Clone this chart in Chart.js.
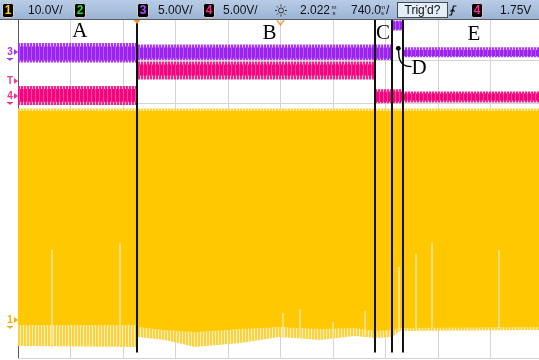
<!DOCTYPE html>
<html>
<head>
<meta charset="utf-8">
<script src="https://cdn.jsdelivr.net/npm/chart.js@4.4.0/dist/chart.umd.min.js"></script>
<style>
  html, body { margin: 0; padding: 0; background: #fff; overflow: hidden; }
  #wrap { width: 539px; height: 360px; overflow: hidden; }
  canvas { display: block; }
</style>
</head>
<body>
<div id="wrap"><canvas id="scope" width="543" height="360"></canvas></div>
<script>
// x: screen divisions (740 ms/div), 0 = left edge. y: screen divisions, 0 = centre

// cursor lines drawn over the capture
const cursorX = [2.267, 6.8, 7.124, 7.333];
const cursorSpan = [3.953, -3.871];

const labelText = ['A', 'B', 'C', 'D', 'E'];
const labelX = [1.177, 4.79, 6.952, 7.638, 8.686];
const labelY = [3.671, 3.631, 3.624, 2.816, 3.612];
const calloutFrom = [7.244, 3.287];
const calloutTo = [7.495, 2.854];

// channel markers on the left edge
const markerText = ['3', 'T', '4', '1'];
const markerY = [3.2, 2.518, 2.165, -3.106];

// channel 1 (yellow)
const ch1X       = [0, 2.267, 2.28, 2.8, 3.37, 4.23, 4.99, 5.75, 6.42, 6.8, 7.124, 7.276, 10];
const ch1OuterHi = [1.871, 1.871, 1.871, 1.871, 1.871, 1.871, 1.871, 1.871, 1.871, 1.871, 1.871, 1.871, 1.871];
const ch1CoreHi  = [1.812, 1.812, 1.812, 1.812, 1.812, 1.812, 1.812, 1.812, 1.812, 1.812, 1.812, 1.812, 1.812];
const ch1CoreLo  = [-3.224, -3.224, -3.271, -3.341, -3.388, -3.318, -3.271, -3.318, -3.294, -3.365, -3.341, -3.294, -3.271];
const ch1OuterLo = [-3.718, -3.741, -3.506, -3.576, -3.741, -3.647, -3.506, -3.576, -3.482, -3.529, -3.506, -3.365, -3.341];

// spikes inside channel 1
const glitchX      = [0.648, 1.943, 5.048, 5.371, 6.0, 6.61, 7.257, 7.581, 7.886, 9.162];
const glitchTop    = [-1.459, -1.294, -2.941, -2.847, -3.153, -2.894, -1.859, -1.553, -1.294, -1.459];
const glitchBottom = [-3.694, -3.694, -3.529, -3.529, -3.529, -3.482, -3.341, -3.294, -3.294, -3.294];

// channel 3 (purple)
const ch3X       = [0, 2.267, 2.267, 7.124, 7.124, 7.333, 7.333, 10];
const ch3OuterHi = [3.412, 3.412, 3.376, 3.376, 3.941, 3.941, 3.311, 3.311];
const ch3CoreHi  = [3.329, 3.329, 3.306, 3.306, 3.918, 3.918, 3.247, 3.247];
const ch3CoreLo  = [3.0, 3.0, 3.047, 3.047, 3.729, 3.729, 3.106, 3.106];
const ch3OuterLo = [2.953, 2.953, 3.012, 3.012, 3.706, 3.706, 3.075, 3.075];

// channel 4 (pink)
const ch4X       = [0, 2.267, 2.267, 6.8, 6.8, 7.333, 7.333, 10];
const ch4OuterHi = [2.4, 2.4, 2.976, 2.976, 2.322, 2.322, 2.271, 2.271];
const ch4CoreHi  = [2.329, 2.329, 2.906, 2.906, 2.266, 2.266, 2.224, 2.224];
const ch4CoreLo  = [2.031, 2.031, 2.647, 2.647, 2.031, 2.031, 2.059, 2.059];
const ch4OuterLo = [1.953, 1.953, 2.553, 2.553, 1.993, 1.993, 2.012, 2.012];

function stripes(c1, w1, c2, w2) {
  const c = document.createElement('canvas');
  c.width = w1 + w2; c.height = 1;
  const g = c.getContext('2d');
  g.fillStyle = c1; g.fillRect(0, 0, w1, 1);
  g.fillStyle = c2; g.fillRect(w1, 0, w2, 1);
  return g.createPattern(c, 'repeat');
}

const datasets = [];

function segments(xs, tops, bottoms) {
  const pts = [];
  xs.forEach((x, i) => {
    pts.push({x, y: tops[i]}, {x, y: bottoms[i]}, {x, y: null});
  });
  return pts;
}

function band(xs, hi, lo, bg) {
  const i = datasets.length;
  datasets.push({ data: xs.map((x, k) => ({x, y: hi[k]})), fill: i + 1, backgroundColor: bg,
    borderColor: 'transparent', borderWidth: 0, pointRadius: 0 });
  datasets.push({ data: xs.map((x, k) => ({x, y: lo[k]})), fill: false,
    borderColor: 'transparent', borderWidth: 0, pointRadius: 0 });
}

// top of the list is drawn last
datasets.push({
  data: segments(cursorX, cursorX.map(() => cursorSpan[0]), cursorX.map(() => cursorSpan[1])),
  borderColor: '#111', borderWidth: 2, pointRadius: 0, fill: false
});
datasets.push({
  data: segments(glitchX, glitchTop, glitchBottom),
  borderColor: '#ffe38a', borderWidth: 1, pointRadius: 0, fill: false
});
band(ch1X, ch1CoreHi, ch1CoreLo, '#ffc800');
band(ch1X, ch1OuterHi, ch1OuterLo, stripes('#ffd23c', 2, '#fff0c0', 1));
band(ch4X, ch4CoreHi, ch4CoreLo, stripes('#f4047d', 3, '#fa4aa0', 1));
band(ch4X, ch4OuterHi, ch4OuterLo, stripes('#f5208a', 2, '#ffc4e0', 1));
band(ch3X, ch3CoreHi, ch3CoreLo, stripes('#9d22f2', 3, '#b45ef6', 1));
band(ch3X, ch3OuterHi, ch3OuterLo, stripes('#a93bf2', 2, '#e6c4fb', 1));

const SANS = '"Liberation Sans", Arial, sans-serif';

const overlay = {
  id: 'overlay',
  afterDatasetsDraw(chart) {
    const {ctx, scales: {x, y}} = chart;
    ctx.save();
    ctx.fillStyle = '#000';
    ctx.font = '21px "Liberation Serif", "Times New Roman", serif';
    ctx.textAlign = 'center';
    ctx.textBaseline = 'middle';
    labelText.forEach((t, i) => ctx.fillText(t, x.getPixelForValue(labelX[i]), y.getPixelForValue(labelY[i])));

    // callout for D
    const ax = x.getPixelForValue(calloutFrom[0]), ay = y.getPixelForValue(calloutFrom[1]);
    const bx = x.getPixelForValue(calloutTo[0]), by = y.getPixelForValue(calloutTo[1]);
    ctx.strokeStyle = '#000';
    ctx.lineWidth = 1.3;
    ctx.beginPath();
    ctx.moveTo(ax, ay);
    ctx.lineTo(ax + 0.8, ay + 9);
    ctx.quadraticCurveTo(ax + 2.5, by, bx, by);
    ctx.stroke();
    ctx.beginPath();
    ctx.arc(ax, ay, 2.4, 0, Math.PI * 2);
    ctx.fill();
    ctx.restore();
  },
  afterDraw(chart) {
    const {ctx, scales: {x, y}} = chart;
    ctx.save();

    // left channel markers
    const mColors = ['#a233f0', '#ee3d95', '#ee2d8c', '#f2b300'];
    ctx.font = 'bold 10px ' + SANS;
    ctx.textAlign = 'center';
    ctx.textBaseline = 'middle';
    markerText.forEach((t, i) => {
      const py = Math.round(y.getPixelForValue(markerY[i]));
      ctx.fillStyle = mColors[i];
      ctx.fillText(t, 10, py);
      ctx.beginPath();
      ctx.moveTo(14, py - 3); ctx.lineTo(18, py); ctx.lineTo(14, py + 3);
      ctx.fill();
      if (t !== 'T') {
        ctx.fillRect(7, py + 6, 6, 1);
        ctx.beginPath();
        ctx.moveTo(8, py + 7); ctx.lineTo(12, py + 7); ctx.lineTo(10, py + 9);
        ctx.fill();
      }
    });

    // status bar
    const W = chart.width;
    const grad = ctx.createLinearGradient(0, 0, 0, 19);
    grad.addColorStop(0, '#b8cce6');
    grad.addColorStop(1, '#9bb4d5');
    ctx.fillStyle = grad;
    ctx.fillRect(0, 0, W, 19);
    ctx.fillStyle = '#5c5c5c';
    ctx.fillRect(0, 19, W, 1);

    function chip(px, label, color) {
      ctx.fillStyle = '#000';
      ctx.beginPath();
      ctx.roundRect(px + 0.5, 3.5, 11, 14, 2);
      ctx.fill();
      ctx.strokeStyle = '#d0d0d0';
      ctx.lineWidth = 1;
      ctx.stroke();
      ctx.fillStyle = color;
      ctx.font = 'bold 12px ' + SANS;
      ctx.textAlign = 'center';
      ctx.fillText(label, px + 6, 11);
    }
    ctx.textBaseline = 'middle';
    chip(2, '1', '#ffd700');
    chip(74, '2', '#22e022');
    chip(137, '3', '#b04cff');
    chip(203, '4', '#ff2a90');
    chip(471, '4', '#ff2a90');

    ctx.fillStyle = '#111';
    ctx.font = '12px ' + SANS;
    ctx.textAlign = 'left';
    [['10.0V/', 28], ['5.00V/', 158], ['5.00V/', 223], ['2.022', 300],
     ['740.0', 351], ['/', 386], ['1.75V', 500]].forEach(([t, px]) => ctx.fillText(t, px, 10.5));
    ctx.font = '6px ' + SANS;
    ctx.textAlign = 'center';
    [331.5 + 2.5, 379 + 3.5].forEach(px => {
      ctx.fillText('m', px, 7);
      ctx.fillText('s', px, 13.5);
    });

    // intensity icon
    ctx.strokeStyle = '#333';
    ctx.lineWidth = 1;
    ctx.beginPath();
    ctx.arc(281, 10.5, 2.5, 0, Math.PI * 2);
    ctx.stroke();
    for (let k = 0; k < 8; k++) {
      const a = k * Math.PI / 4;
      ctx.beginPath();
      ctx.moveTo(281 + Math.cos(a) * 4, 10.5 + Math.sin(a) * 4);
      ctx.lineTo(281 + Math.cos(a) * 6, 10.5 + Math.sin(a) * 6);
      ctx.stroke();
    }

    // trigger status box
    ctx.fillStyle = '#e3edf8';
    ctx.fillRect(397.5, 2.5, 50, 15);
    ctx.strokeStyle = '#4a4a4a';
    ctx.strokeRect(397.5, 2.5, 50, 15);
    ctx.fillStyle = '#111';
    ctx.font = '12px ' + SANS;
    ctx.fillText("Trig'd?", 422.5, 10.5);

    // trigger slope
    ctx.strokeStyle = '#111';
    ctx.lineWidth = 1.2;
    ctx.beginPath();
    ctx.moveTo(449, 15); ctx.lineTo(451.5, 15);
    ctx.lineTo(453.5, 6); ctx.lineTo(456.5, 6);
    ctx.stroke();
    ctx.beginPath();
    ctx.moveTo(450.5, 11.5); ctx.lineTo(452.6, 9.5); ctx.lineTo(454.5, 11.5);
    ctx.stroke();

    // trigger / delay markers
    ctx.fillStyle = '#f0962a';
    const tx = x.getPixelForValue(cursorX[0]);
    ctx.beginPath();
    ctx.moveTo(tx - 3.5, 20); ctx.lineTo(tx + 3.5, 20); ctx.lineTo(tx, 24);
    ctx.fill();
    const dx = x.getPixelForValue(5);
    ctx.strokeStyle = '#f0962a';
    ctx.lineWidth = 1.3;
    ctx.beginPath();
    ctx.moveTo(dx - 3.5, 20); ctx.lineTo(dx, 25); ctx.lineTo(dx + 3.5, 20);
    ctx.stroke();
    ctx.restore();
  }
};

new Chart(document.getElementById('scope').getContext('2d'), {
  type: 'line',
  data: { datasets },
  options: {
    responsive: false,
    animation: false,
    devicePixelRatio: 1,
    layout: { padding: { left: 18, top: 18, right: 0, bottom: 2 } },
    elements: { line: { tension: 0 } },
    plugins: { legend: { display: false }, tooltip: { enabled: false } },
    events: [],
    scales: {
      x: {
        type: 'linear', min: 0, max: 10,
        ticks: { display: false, stepSize: 1 },
        grid: { drawTicks: false, color: c => (c.tick && c.tick.value === 0 ? '#5a5a5a' : '#d4d4d4') },
        border: { display: false }
      },
      y: {
        type: 'linear', min: -4, max: 4,
        ticks: { display: false, stepSize: 1 },
        grid: { drawTicks: false, color: '#d4d4d4' },
        border: { display: false }
      }
    }
  },
  plugins: [overlay]
});
</script>
</body>
</html>
